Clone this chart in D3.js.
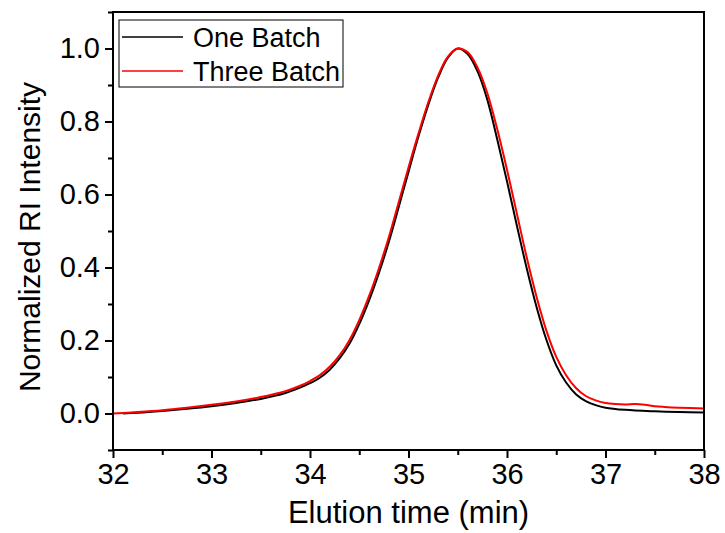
<!DOCTYPE html>
<html>
<head>
<meta charset="utf-8">
<script src="https://cdn.jsdelivr.net/npm/d3@7"></script>
<style>
  body { margin: 0; background: #fff; }
  text { font-family: "Liberation Sans", Arial, sans-serif; fill: #000; }
</style>
</head>
<body>
<div class="chart"></div>
<script>
// Elution time (min) and normalized RI intensity
const oneBatchTime = [32.1, 32.25, 32.5, 32.75, 33.0, 33.25, 33.5, 33.75, 33.9, 34.0, 34.1, 34.2, 34.3, 34.4, 34.5, 34.6, 34.7, 34.8, 34.9, 35.0, 35.1, 35.2, 35.3, 35.4, 35.5, 35.6, 35.7, 35.8, 35.9, 36.0, 36.1, 36.2, 36.3, 36.4, 36.5, 36.6, 36.7, 36.8, 36.9, 37.0, 37.2, 37.5, 37.75, 38.0];
const oneBatchValue = [0.000, 0.002, 0.007, 0.013, 0.020, 0.029, 0.040, 0.056, 0.071, 0.083, 0.098, 0.120, 0.151, 0.191, 0.245, 0.310, 0.385, 0.470, 0.565, 0.662, 0.758, 0.845, 0.920, 0.975, 1.000, 0.985, 0.938, 0.860, 0.752, 0.636, 0.515, 0.398, 0.292, 0.202, 0.132, 0.085, 0.053, 0.034, 0.023, 0.016, 0.010, 0.006, 0.004, 0.003];

const threeBatchTime = [32.0, 32.25, 32.5, 32.75, 33.0, 33.25, 33.5, 33.75, 33.9, 34.0, 34.1, 34.2, 34.3, 34.4, 34.5, 34.6, 34.7, 34.8, 34.9, 35.0, 35.1, 35.2, 35.3, 35.4, 35.5, 35.6, 35.7, 35.8, 35.9, 36.0, 36.1, 36.2, 36.3, 36.4, 36.5, 36.6, 36.7, 36.8, 36.9, 37.0, 37.1, 37.2, 37.3, 37.4, 37.5, 37.6, 37.75, 38.0];
const threeBatchValue = [0.000, 0.004, 0.009, 0.016, 0.024, 0.033, 0.045, 0.061, 0.076, 0.089, 0.105, 0.128, 0.159, 0.201, 0.256, 0.322, 0.398, 0.483, 0.578, 0.674, 0.766, 0.852, 0.925, 0.978, 1.000, 0.990, 0.948, 0.878, 0.780, 0.668, 0.548, 0.428, 0.320, 0.227, 0.155, 0.105, 0.070, 0.048, 0.036, 0.029, 0.026, 0.025, 0.026, 0.024, 0.020, 0.018, 0.016, 0.014];

const xTicks = [32, 33, 34, 35, 36, 37, 38];
const xMinorTicks = [32.5, 33.5, 34.5, 35.5, 36.5, 37.5];
const yTicks = [0.0, 0.2, 0.4, 0.6, 0.8, 1.0];
const yMinorTicks = [-0.1, 0.1, 0.3, 0.5, 0.7, 0.9, 1.1];

const seriesNames = ["One Batch", "Three Batch"];
const seriesColors = ["#000000", "#ff0000"];

// Set the dimensions and margins of the graph
let margin = { top: 12, right: 21, bottom: 83, left: 113 },
  width = 725 - margin.left - margin.right,
  height = 533 - margin.top - margin.bottom;

const svg = d3
  .select(".chart")
  .append("svg")
  .attr("width", 725)
  .attr("height", 533);

const g = svg
  .append("g")
  .attr("transform", `translate(${margin.left},${margin.top})`);

// Scales
const x = d3.scaleLinear().domain([32, 38]).range([0, width]);
const y = d3.scaleLinear().domain([-0.1, 1.1]).range([height, 0]);

// Clip for the curves
g.append("clipPath")
  .attr("id", "plot-clip")
  .append("rect")
  .attr("width", width)
  .attr("height", height);

// Curves
const series = [
  oneBatchTime.map((t, i) => ({ t: t, v: oneBatchValue[i] })),
  threeBatchTime.map((t, i) => ({ t: t, v: threeBatchValue[i] })),
];

const line = d3
  .line()
  .curve(d3.curveCatmullRom.alpha(0.5))
  .x((d) => x(d.t))
  .y((d) => y(d.v));

series.forEach((s, i) => {
  g.append("path")
    .datum(s)
    .attr("clip-path", "url(#plot-clip)")
    .attr("fill", "none")
    .attr("stroke", seriesColors[i])
    .attr("stroke-width", 2)
    .attr("d", line);
});

// Axes: major ticks with labels, minor ticks without
function styleAxis(sel, fontSize) {
  sel.select(".domain").remove();
  sel.selectAll("line").attr("stroke", "#000").attr("stroke-width", 2);
  sel.selectAll("text").style("font-size", fontSize + "px").attr("fill", "#000");
}

g.append("g")
  .attr("transform", `translate(0,${height})`)
  .call(d3.axisBottom(x).tickValues(xTicks).tickSize(8).tickPadding(5).tickFormat(d3.format("d")))
  .call((a) => styleAxis(a, 29));

g.append("g")
  .attr("transform", `translate(0,${height})`)
  .call(d3.axisBottom(x).tickValues(xMinorTicks).tickSize(5).tickFormat(""))
  .call((a) => styleAxis(a, 29));

g.append("g")
  .call(d3.axisLeft(y).tickValues(yTicks).tickSize(8).tickPadding(5).tickFormat(d3.format(".1f")))
  .call((a) => styleAxis(a, 29));

g.append("g")
  .call(d3.axisLeft(y).tickValues(yMinorTicks).tickSize(5).tickFormat(""))
  .call((a) => styleAxis(a, 29));

// Frame
g.append("rect")
  .attr("width", width)
  .attr("height", height)
  .attr("fill", "none")
  .attr("stroke", "#000")
  .attr("stroke-width", 2);

// Axis titles
svg
  .append("text")
  .attr("x", margin.left + width / 2)
  .attr("y", 523)
  .attr("text-anchor", "middle")
  .style("font-size", "31px")
  .text("Elution time (min)");

svg
  .append("text")
  .attr("transform", `translate(40,${237}) rotate(-90)`)
  .attr("text-anchor", "middle")
  .style("font-size", "30px")
  .text("Normalized RI Intensity");

// Legend
const legend = svg.append("g").attr("transform", "translate(119,20)");
legend
  .append("rect")
  .attr("width", 224)
  .attr("height", 67)
  .attr("fill", "#fff")
  .attr("stroke", "#000")
  .attr("stroke-width", 1);

seriesNames.forEach((name, i) => {
  const cy = 17 + i * 34;
  legend
    .append("line")
    .attr("x1", 3)
    .attr("x2", 64)
    .attr("y1", cy)
    .attr("y2", cy)
    .attr("stroke", seriesColors[i])
    .attr("stroke-width", 1.5);
  legend
    .append("text")
    .attr("x", 74)
    .attr("y", cy + 9.5)
    .style("font-size", "27px")
    .text(name);
});
</script>
</body>
</html>
